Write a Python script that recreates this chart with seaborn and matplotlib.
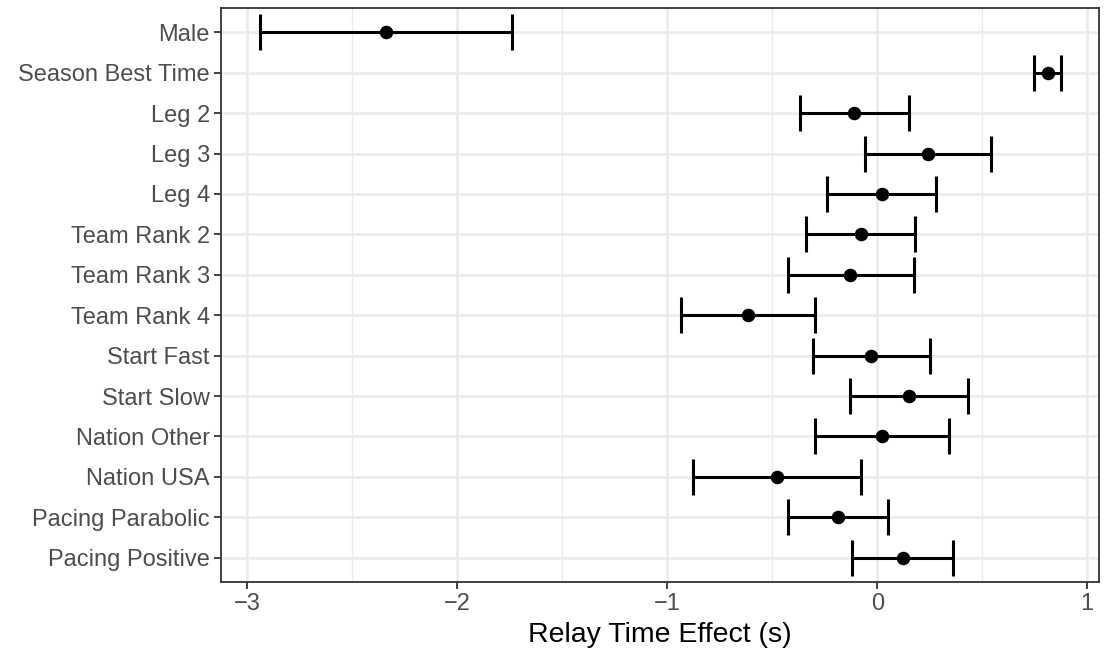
import numpy as np
import pandas as pd
import matplotlib
matplotlib.use("Agg")
import matplotlib.pyplot as plt
import seaborn as sns

terms = ["Male", "Season Best Time", "Leg 2", "Leg 3", "Leg 4",
         "Team Rank 2", "Team Rank 3", "Team Rank 4", "Start Fast",
         "Start Slow", "Nation Other", "Nation USA", "Pacing Parabolic",
         "Pacing Positive"]
estimate = [-2.340, 0.814, -0.110, 0.243, 0.021, -0.079, -0.129, -0.617,
            -0.030, 0.151, 0.021, -0.479, -0.189, 0.122]
lower = [-2.938, 0.748, -0.368, -0.059, -0.240, -0.338, -0.427, -0.936,
         -0.308, -0.129, -0.298, -0.878, -0.427, -0.119]
upper = [-1.738, 0.875, 0.150, 0.541, 0.281, 0.181, 0.173, -0.298,
         0.251, 0.432, 0.341, -0.078, 0.052, 0.362]
x_ticks = [-3, -2, -1, 0, 1]
x_minor = [-2.5, -1.5, -0.5, 0.5]
x_label = "Relay Time Effect (s)"

df = pd.DataFrame({"term": terms, "estimate": estimate,
                   "lower": lower, "upper": upper})

sns.set_theme(style="white")
plt.rcParams["font.family"] = ["Liberation Sans", "DejaVu Sans"]

fig = plt.figure(figsize=(11.06, 6.51), dpi=100)
ax = fig.add_axes([221 / 1106, 1 - 582 / 651, (1099 - 221) / 1106, (582 - 8) / 651])

ypos = np.arange(len(terms))
est = df["estimate"].to_numpy()
ax.errorbar(x=est, y=ypos,
            xerr=[est - df["lower"].to_numpy(), df["upper"].to_numpy() - est],
            fmt="none", ecolor="black", elinewidth=2.2, capsize=13,
            capthick=2.2, zorder=3)
sns.scatterplot(x=est, y=ypos, color="black", s=95, edgecolor="black",
                linewidth=0, ax=ax, zorder=4)

ax.set_xlim(-3.125, 1.056)
ax.set_ylim(len(terms) - 1 + 0.6, -0.6)
ax.set_yticks(ypos)
ax.set_yticklabels(terms)
ax.set_xticks(x_ticks)
ax.set_xticklabels([str(t).replace("-", "\u2212") for t in x_ticks])
ax.set_xticks(x_minor, minor=True)

ax.grid(True, which="major", color="#EBEBEB", linewidth=1.8, zorder=0)
ax.grid(True, which="minor", axis="x", color="#EBEBEB", linewidth=1.0, zorder=0)
ax.set_axisbelow(True)

for s in ax.spines.values():
    s.set_color("#333333")
    s.set_linewidth(1.3)

ax.tick_params(axis="both", which="major", length=5, width=1.3, color="#333333",
               labelcolor="#4D4D4D", labelsize=17, pad=3, direction="out",
               bottom=True, left=True)
ax.tick_params(axis="x", which="minor", length=0)
ax.set_xlabel(x_label, fontsize=20.5, color="black", labelpad=5)
ax.set_ylabel("")

fig.savefig("out.png", dpi=100)
